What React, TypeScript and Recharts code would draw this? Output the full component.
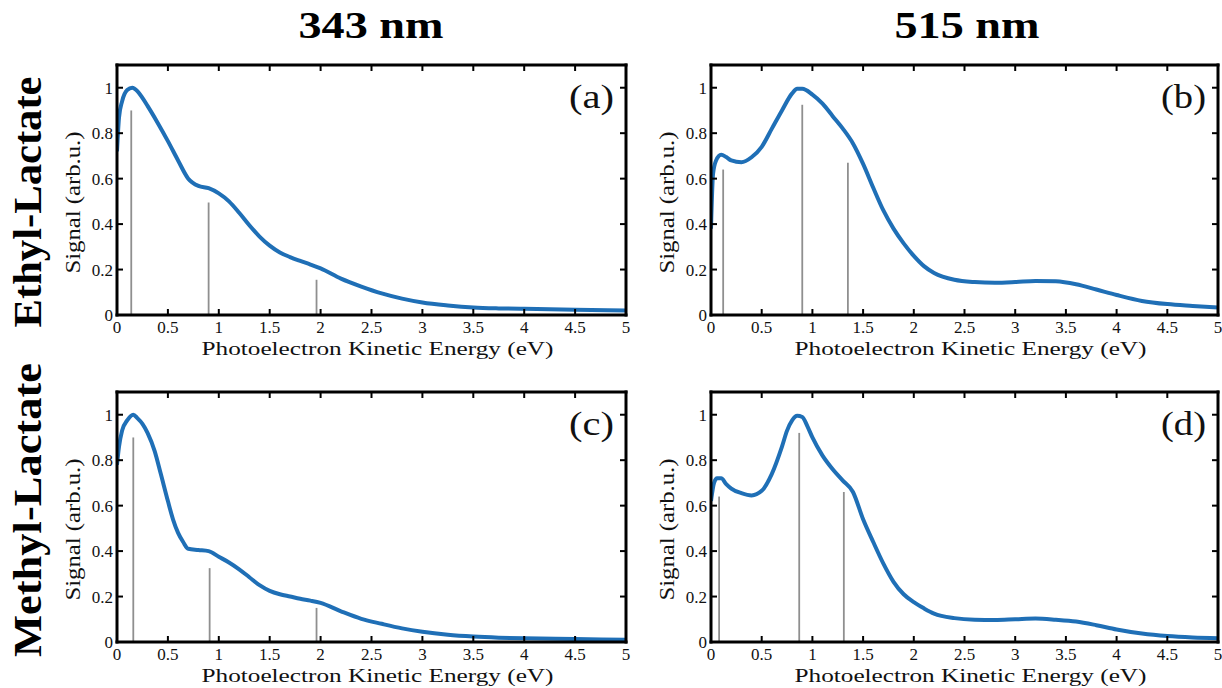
import React from 'react';
import { LineChart, Line, XAxis, YAxis, ReferenceLine } from 'recharts';

// ---------- data ----------
const xTicks = [0, 0.5, 1, 1.5, 2, 2.5, 3, 3.5, 4, 4.5, 5];
const yTicks = [0, 0.2, 0.4, 0.6, 0.8, 1];

const columnTitles = ['343 nm', '515 nm'];
const rowTitles = ['Ethyl-Lactate', 'Methyl-Lactate'];
const panelTags = ['(a)', '(b)', '(c)', '(d)'];
const xAxisTitle = 'Photoelectron Kinetic Energy (eV)';
const yAxisTitle = 'Signal (arb.u.)';

// (a) Ethyl-Lactate, 343 nm
const ethyl343E = [0, 0.02, 0.05, 0.1, 0.15, 0.2, 0.25, 0.3, 0.4, 0.5, 0.6, 0.7, 0.8, 0.9, 1.0, 1.1, 1.2, 1.3, 1.4, 1.5, 1.6, 1.7, 1.8, 1.9, 2.0, 2.2, 2.4, 2.6, 2.8, 3.0, 3.25, 3.5, 3.75, 4.0, 4.5, 5.0];
const ethyl343V = [0.72, 0.87, 0.94, 0.99, 1.0, 0.985, 0.955, 0.92, 0.845, 0.765, 0.68, 0.6, 0.568, 0.558, 0.535, 0.5, 0.45, 0.395, 0.345, 0.305, 0.275, 0.255, 0.238, 0.222, 0.205, 0.16, 0.125, 0.095, 0.072, 0.055, 0.042, 0.033, 0.029, 0.027, 0.023, 0.02];
const ethyl343StickE = [0.14, 0.9, 1.96];
const ethyl343StickH = [0.9, 0.495, 0.155];

// (b) Ethyl-Lactate, 515 nm
const ethyl515E = [0, 0.02, 0.05, 0.1, 0.15, 0.2, 0.3, 0.4, 0.5, 0.6, 0.7, 0.8, 0.85, 0.9, 1.0, 1.1, 1.2, 1.3, 1.4, 1.5, 1.6, 1.7, 1.8, 1.9, 2.0, 2.1, 2.2, 2.4, 2.6, 2.8, 3.0, 3.2, 3.4, 3.6, 3.8, 4.0, 4.25, 4.5, 4.75, 5.0];
const ethyl515V = [0.38, 0.62, 0.68, 0.705, 0.695, 0.68, 0.672, 0.694, 0.74, 0.82, 0.9, 0.975, 0.995, 0.995, 0.97, 0.93, 0.875, 0.82, 0.755, 0.665, 0.56, 0.46, 0.38, 0.315, 0.26, 0.215, 0.185, 0.155, 0.145, 0.142, 0.145, 0.15, 0.148, 0.135, 0.112, 0.088, 0.062, 0.048, 0.04, 0.033];
const ethyl515StickE = [0.12, 0.9, 1.35];
const ethyl515StickH = [0.64, 0.925, 0.67];

// (c) Methyl-Lactate, 343 nm
const methyl343E = [0, 0.02, 0.05, 0.1, 0.16, 0.2, 0.25, 0.3, 0.37, 0.43, 0.5, 0.55, 0.6, 0.65, 0.7, 0.8, 0.9, 1.0, 1.1, 1.2, 1.3, 1.4, 1.5, 1.6, 1.7, 1.8, 1.9, 2.0, 2.2, 2.4, 2.6, 2.8, 3.0, 3.25, 3.5, 3.75, 4.0, 4.5, 5.0];
const methyl343V = [0.78, 0.86, 0.93, 0.975, 1.0, 0.985, 0.96, 0.92, 0.84, 0.74, 0.62, 0.54, 0.48, 0.44, 0.41, 0.405, 0.4, 0.375, 0.35, 0.32, 0.285, 0.25, 0.225, 0.21, 0.2, 0.19, 0.182, 0.172, 0.135, 0.102, 0.08, 0.06, 0.045, 0.032, 0.024, 0.019, 0.016, 0.013, 0.01];
const methyl343StickE = [0.16, 0.91, 1.96];
const methyl343StickH = [0.9, 0.325, 0.15];

// (d) Methyl-Lactate, 515 nm
const methyl515E = [0, 0.03, 0.06, 0.1, 0.15, 0.2, 0.3, 0.4, 0.5, 0.6, 0.7, 0.75, 0.8, 0.85, 0.9, 0.95, 1.0, 1.1, 1.2, 1.3, 1.4, 1.5, 1.6, 1.7, 1.8, 1.9, 2.0, 2.1, 2.2, 2.4, 2.6, 2.8, 3.0, 3.2, 3.4, 3.6, 3.8, 4.0, 4.25, 4.5, 4.75, 5.0];
const methyl515V = [0.62, 0.7, 0.72, 0.72, 0.695, 0.675, 0.655, 0.645, 0.665, 0.74, 0.86, 0.93, 0.975, 0.995, 0.99, 0.95, 0.9, 0.82, 0.76, 0.71, 0.66, 0.54, 0.44, 0.345, 0.265, 0.21, 0.175, 0.148, 0.125, 0.105, 0.098, 0.097, 0.1, 0.103, 0.098, 0.09, 0.074, 0.055, 0.037, 0.026, 0.02, 0.017];
const methyl515StickE = [0.08, 0.87, 1.31];
const methyl515StickH = [0.64, 0.92, 0.66];

// ---------- styling / layout ----------
const W = 1222;
const H = 688;
const SERIF = 'Liberation Serif, Tinos, Times New Roman, Times, serif';
const CURVE = '#1f6fb6';
const STICK = '#8f8f8f';

const boxes = [
  { left: 117, right: 626, top: 65, bottom: 315 },
  { left: 711, right: 1218, top: 65, bottom: 315 },
  { left: 117, right: 626, top: 392, bottom: 642 },
  { left: 711, right: 1218, top: 392, bottom: 642 },
];

const toRows = (E: number[], V: number[]) => E.map((e, i) => ({ E: e, v: V[i] }));
const toSticks = (E: number[], Hs: number[]) => E.map((e, i) => ({ E: e, h: Hs[i] }));

const panels = [
  { rows: toRows(ethyl343E, ethyl343V), sticks: toSticks(ethyl343StickE, ethyl343StickH) },
  { rows: toRows(ethyl515E, ethyl515V), sticks: toSticks(ethyl515StickE, ethyl515StickH) },
  { rows: toRows(methyl343E, methyl343V), sticks: toSticks(methyl343StickE, methyl343StickH) },
  { rows: toRows(methyl515E, methyl515V), sticks: toSticks(methyl515StickE, methyl515StickH) },
];

const axisLineStyle = { stroke: '#000', strokeWidth: 3, strokeLinecap: 'square' as const };
const TICK_LEN = 6;
const tickTextStyle = { fontFamily: SERIF, fontSize: 17 };

const BottomTick = (p: any) => (
  <g>
    <line x1={p.x} x2={p.x} y1={p.y} y2={p.y - TICK_LEN} stroke="#000" strokeWidth={2} />
    <text x={p.x} y={p.y + 18} textAnchor="middle" style={tickTextStyle} fill="#111">
      {String(p.payload.value)}
    </text>
  </g>
);
const TopTick = (p: any) => (
  <line x1={p.x} x2={p.x} y1={p.y} y2={p.y + TICK_LEN} stroke="#000" strokeWidth={2} />
);
const LeftTick = (p: any) => (
  <g>
    <line x1={p.x} x2={p.x + TICK_LEN} y1={p.y} y2={p.y} stroke="#000" strokeWidth={2} />
    <text x={p.x - 4} y={p.y + 6} textAnchor="end" style={tickTextStyle} fill="#111">
      {String(p.payload.value)}
    </text>
  </g>
);
const RightTick = (p: any) => (
  <line x1={p.x} x2={p.x - TICK_LEN} y1={p.y} y2={p.y} stroke="#000" strokeWidth={2} />
);

function Panel({ rows, sticks, box }: any) {
  return (
    <div style={{ position: 'absolute', left: 0, top: 0, width: W, height: H }}>
      <LineChart
        width={W}
        height={H}
        data={rows}
        margin={{ top: box.top - 1, left: box.left - 1, right: W - box.right - 1, bottom: H - box.bottom - 1 }}
      >
        <XAxis
          xAxisId="b"
          dataKey="E"
          type="number"
          domain={[0, 5]}
          ticks={xTicks}
          interval={0}
          height={1}
          tickSize={0}
          tickMargin={0}
          tickLine={false}
          axisLine={axisLineStyle}
          tick={(p: any) => <BottomTick {...p} />}
          allowDataOverflow
        />
        <XAxis
          xAxisId="t"
          orientation="top"
          dataKey="E"
          type="number"
          domain={[0, 5]}
          ticks={xTicks}
          interval={0}
          height={1}
          tickSize={0}
          tickMargin={0}
          tickLine={false}
          axisLine={axisLineStyle}
          tick={(p: any) => <TopTick {...p} />}
          allowDataOverflow
        />
        <YAxis
          yAxisId="l"
          type="number"
          domain={[0, 1.1]}
          ticks={yTicks}
          interval={0}
          width={1}
          tickSize={0}
          tickMargin={0}
          tickLine={false}
          axisLine={axisLineStyle}
          tick={(p: any) => <LeftTick {...p} />}
          allowDataOverflow
        />
        <YAxis
          yAxisId="r"
          orientation="right"
          type="number"
          domain={[0, 1.1]}
          ticks={yTicks}
          interval={0}
          width={1}
          tickSize={0}
          tickMargin={0}
          tickLine={false}
          axisLine={axisLineStyle}
          tick={(p: any) => <RightTick {...p} />}
          allowDataOverflow
        />
        {sticks.map((s: any, i: number) => (
          <ReferenceLine
            key={i}
            xAxisId="b"
            yAxisId="l"
            segment={[{ x: s.E, y: 0 }, { x: s.E, y: s.h }]}
            stroke={STICK}
            strokeWidth={1.8}
          />
        ))}
        <Line
          xAxisId="b"
          yAxisId="l"
          dataKey="v"
          type="monotone"
          stroke={CURVE}
          strokeWidth={4}
          dot={false}
          activeDot={false}
          isAnimationActive={false}
        />
      </LineChart>
    </div>
  );
}

function Overlay() {
  const colCenters = [371, 967];
  const rowCenters = [202, 510];
  const txt = { fontFamily: SERIF };
  return (
    <svg
      width={W}
      height={H}
      style={{ position: 'absolute', left: 0, top: 0, pointerEvents: 'none' }}
    >
      {columnTitles.map((t, i) => (
        <text key={t} x={colCenters[i]} y={38} textAnchor="middle" style={{ ...txt, fontSize: 38, fontWeight: 'bold' }}
          textLength={145} lengthAdjust="spacingAndGlyphs" fill="#000">{t}</text>
      ))}
      {rowTitles.map((t, i) => (
        <text key={t} x={0} y={0} transform={`translate(41,${rowCenters[i]}) rotate(-90)`} textAnchor="middle"
          style={{ ...txt, fontSize: 40, fontWeight: 'bold' }} textLength={i === 0 ? 251 : 294}
          lengthAdjust="spacingAndGlyphs" fill="#000">{t}</text>
      ))}
      {boxes.map((b, i) => (
        <g key={i}>
          <text x={(b.left + b.right) / 2 + 6} y={b.bottom + 40} textAnchor="middle" style={{ ...txt, fontSize: 19 }}
            textLength={352} lengthAdjust="spacingAndGlyphs" fill="#111">{xAxisTitle}</text>
          <text x={0} y={0} transform={`translate(${b.left - 37},${b.top + 0.55 * (b.bottom - b.top)}) rotate(-90)`}
            textAnchor="middle" style={{ ...txt, fontSize: 20 }} textLength={142}
            lengthAdjust="spacingAndGlyphs" fill="#111">{yAxisTitle}</text>
          <text x={b.right - 12} y={b.top + 43} textAnchor="end" style={{ ...txt, fontSize: 34 }}
            textLength={45} lengthAdjust="spacingAndGlyphs" fill="#111">{panelTags[i]}</text>
        </g>
      ))}
    </svg>
  );
}

export default function App() {
  return (
    <div style={{ position: 'absolute', left: 0, top: 0, width: W, height: H, background: '#fff', overflow: 'hidden' }}>
      {panels.map((p, i) => (
        <Panel key={i} rows={p.rows} sticks={p.sticks} box={boxes[i]} />
      ))}
      <Overlay />
    </div>
  );
}
